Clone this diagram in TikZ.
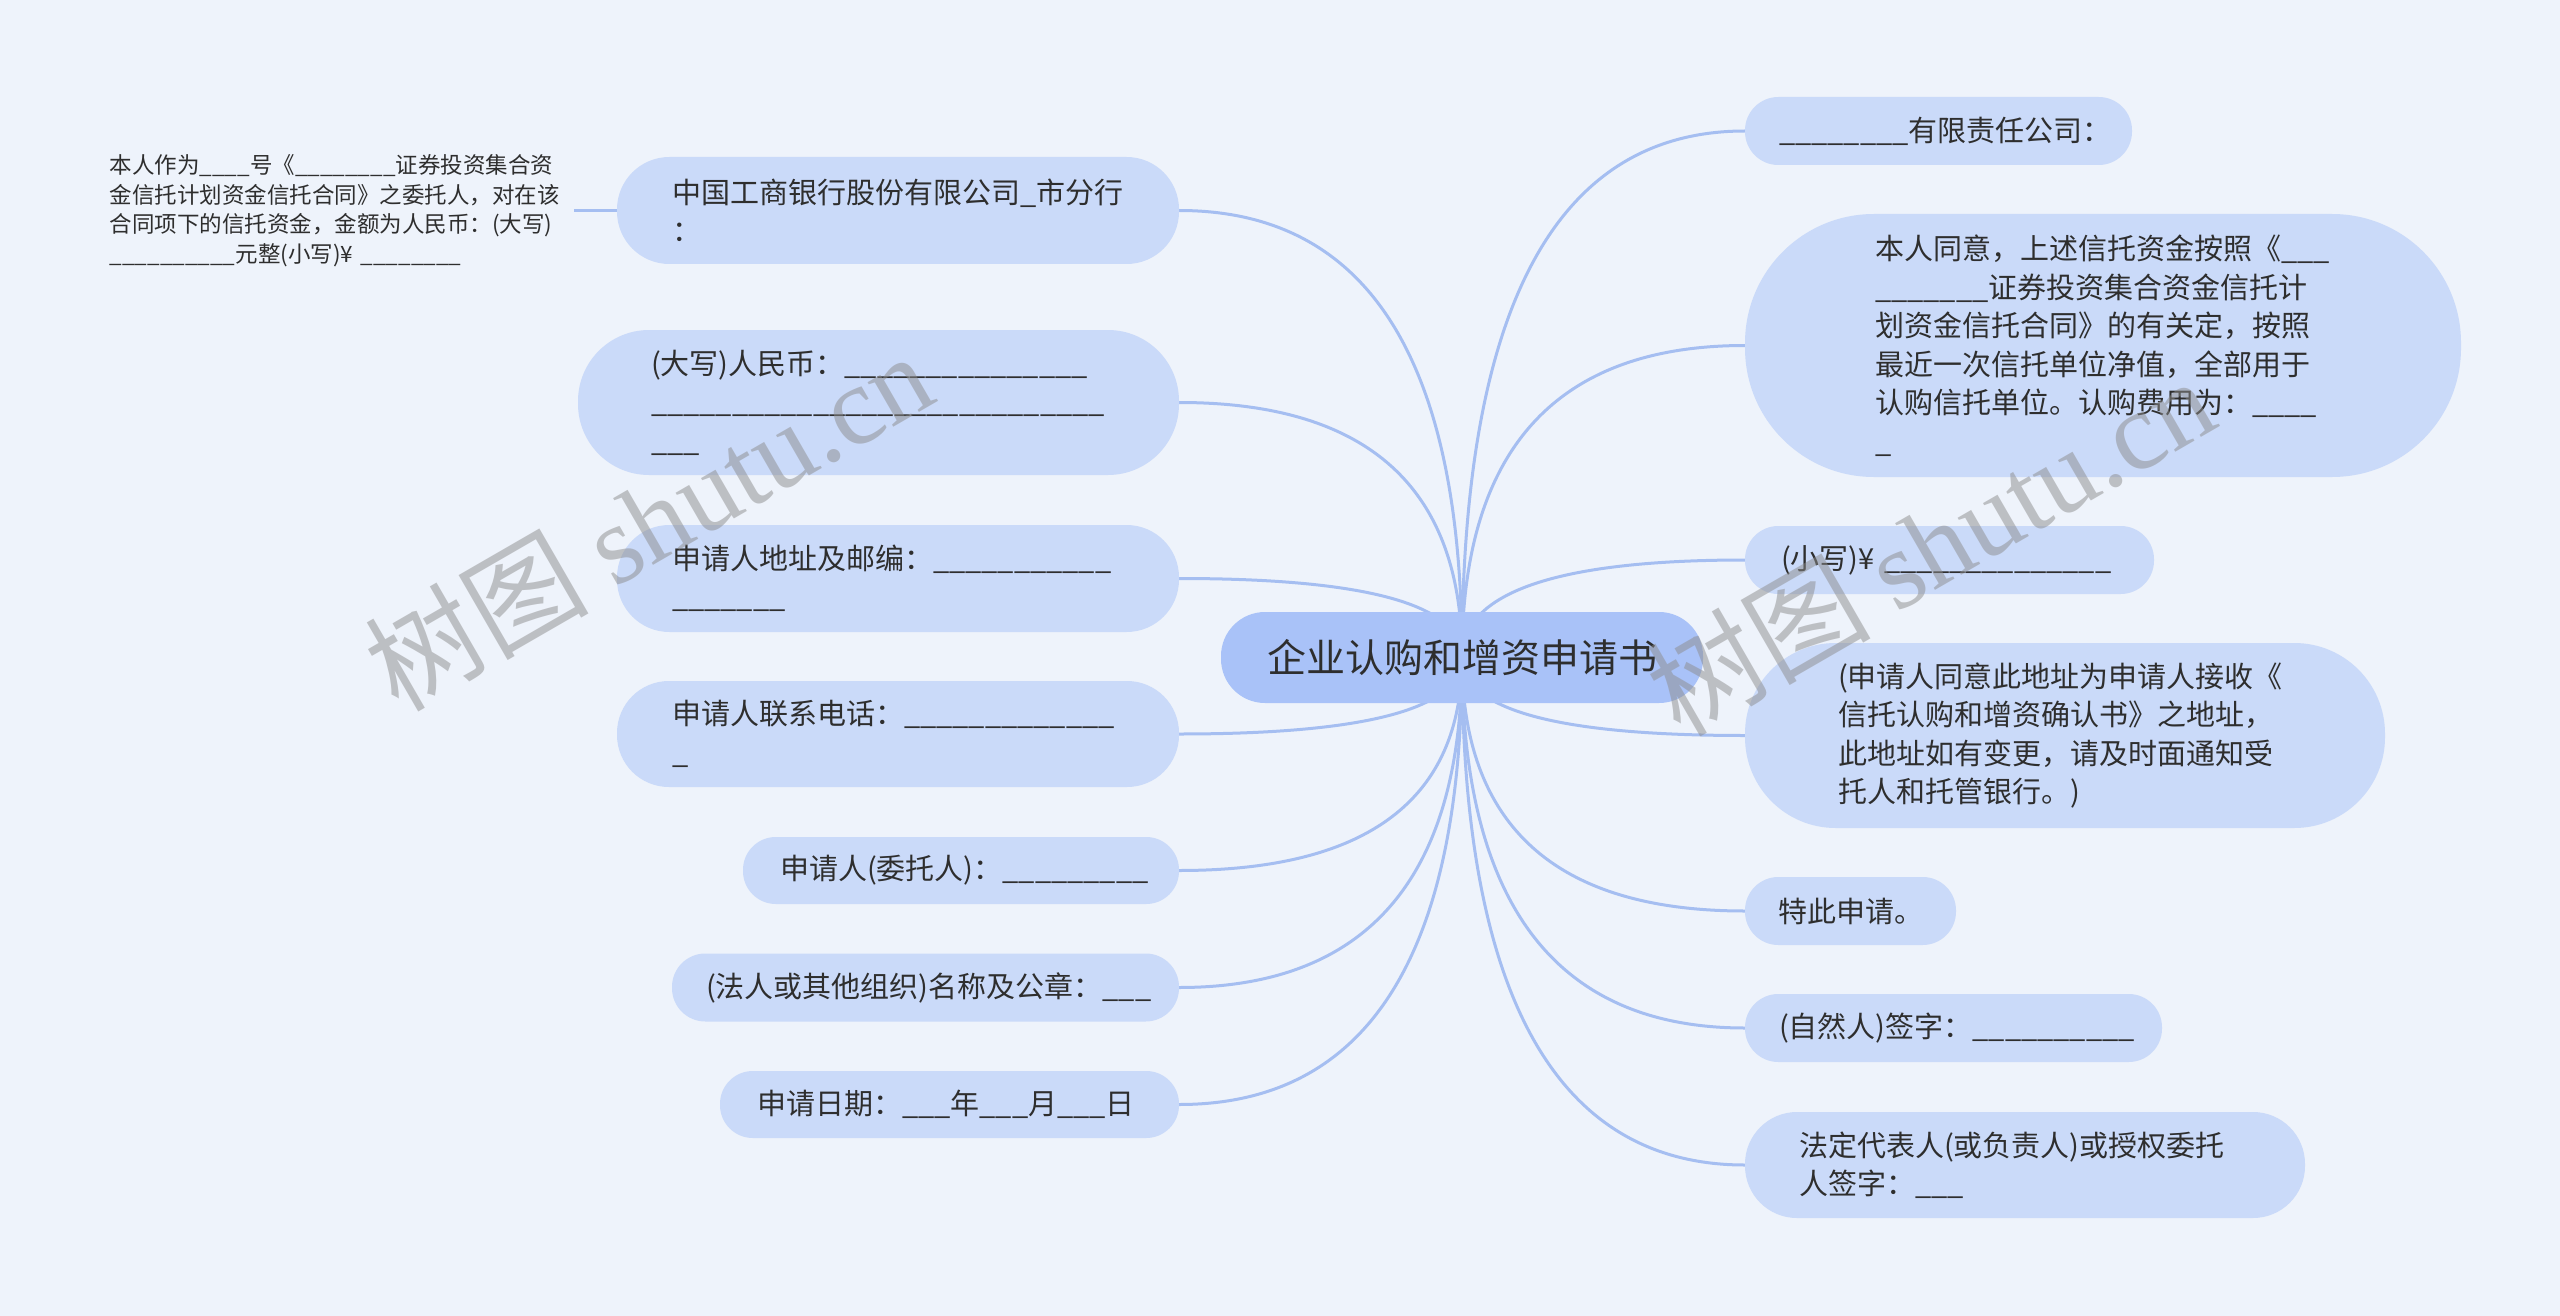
\documentclass[tikz,border=0pt]{standalone}
\usepackage{fontspec}
\setmainfont{Noto Sans CJK SC}
\newfontfamily\wmserif{Liberation Serif}
\usetikzlibrary{calc}
\definecolor{bgc}{HTML}{EEF3FB}
\definecolor{nodec}{HTML}{CADAF9}
\definecolor{rootc}{HTML}{A9C2F8}
\definecolor{linec}{HTML}{A5BEF1}
\definecolor{txtc}{HTML}{2E2E2E}
\pgfdeclarelayer{bg}
\pgfdeclarelayer{edges}
\pgfdeclarelayer{wm}
\pgfsetlayers{bg,edges,main,wm}
\catcode`\_=12
\begin{document}
\begin{tikzpicture}[x=1pt,y=-1pt,
  pill/.style n args={3}{fill=nodec, text=txtc, inner sep=0pt, align=left,
    font=\fontsize{29}{38.5}\selectfont,
    minimum width=#1pt, minimum height=#2pt, text width=#3pt, rounded corners=#2*0.49pt},
  root/.style={fill=rootc, text=txtc, inner sep=0pt, align=center,
    font=\fontsize{39}{46}\selectfont,
    minimum width=482pt, minimum height=91pt, rounded corners=44pt},
  note/.style={text=txtc, inner xsep=8pt, inner ysep=0pt, align=left,
    font=\fontsize{22.5}{29.6}\selectfont, text width=456pt},
  edge/.style={draw=linec, line width=3pt},
  wmark/.style={rotate=30, text=black!45, text opacity=0.5, inner sep=0pt,
    font=\fontsize{112}{112}\selectfont}
]
\useasboundingbox (0,0) rectangle (2560,1316);
\begin{pgfonlayer}{bg}
\fill[bgc] (0,0) rectangle (2560,1316);
\end{pgfonlayer}

% root
\node[root] (C) at (1462,657.5) {企业认购和增资申请书};

% left branch
\node[pill={562}{107}{452}] (L1) at (898,210.5) {中国工商银行股份有限公司_市分行\\：};
\node[pill={601}{145}{455}] (L2) at (878.5,402.5) {(大写)人民币：_______________\\____________________________\\___};
\node[pill={562}{107}{452}] (L3) at (898,578.5) {申请人地址及邮编：___________\\_______};
\node[pill={562}{106}{452}] (L4) at (898,734) {申请人联系电话：_____________\\_};
\node[pill={436}{67}{362}] (L5) at (961,870.5) {申请人(委托人)：_________};
\node[pill={507}{68}{439}] (L6) at (925.5,987.5) {(法人或其他组织)名称及公章：___};
\node[pill={459}{67}{385}] (L7) at (949.5,1104.5) {申请日期：___年___月___日};

\node[note, anchor=east] (T) at (574,210.5) {本人作为____号《________证券投资集合资\\金信托计划资金信托合同》之委托人，对在该\\合同项下的信托资金，金额为人民币：(大写)\\__________元整(小写)¥ ________};

% right branch
\node[pill={387}{68}{319}] (R1) at (1938.5,131) {________有限责任公司：};
\node[pill={716}{263}{456}] (R2) at (2103,345.5) {本人同意，上述信托资金按照《___\\_______证券投资集合资金信托计\\划资金信托合同》的有关定，按照\\最近一次信托单位净值，全部用于\\认购信托单位。认购费用为：____\\_};
\node[pill={409}{68}{337}] (R3) at (1949.5,560) {(小写)¥ ______________};
\node[pill={640}{185}{454}] (R4) at (2065,735.5) {(申请人同意此地址为申请人接收《\\信托认购和增资确认书》之地址，\\此地址如有变更，请及时面通知受\\托人和托管银行。)};
\node[pill={211}{68}{145}] (R5) at (1850.5,911) {特此申请。};
\node[pill={417}{68}{349}] (R6) at (1953.5,1028) {(自然人)签字：__________};
\node[pill={560}{106}{452}] (R7) at (2025,1165) {法定代表人(或负责人)或授权委托\\人签字：___};

% connectors
\begin{pgfonlayer}{edges}
\foreach \n in {R1,R2,R3,R4,R5,R6,R7}
  \draw[edge] (C.center) .. controls ($(C.center)!0.6667!(C.center |- \n.west)$) and ($(\n.west)!0.6667!(C.center |- \n.west)$) .. (\n.west);
\foreach \n in {L1,L2,L3,L4,L5,L6,L7}
  \draw[edge] (C.center) .. controls ($(C.center)!0.6667!(C.center |- \n.east)$) and ($(\n.east)!0.6667!(C.center |- \n.east)$) .. (\n.east);
\draw[edge] (T.east) -- (L1.west);
\end{pgfonlayer}

% watermarks
\begin{pgfonlayer}{wm}
\node[wmark] (W1) at (648,520) {树图 {\wmserif shutu.cn}};
\node[wmark] (W2) at (1930,545) {树图 {\wmserif shutu.cn}};
\end{pgfonlayer}
\end{tikzpicture}
\end{document}
